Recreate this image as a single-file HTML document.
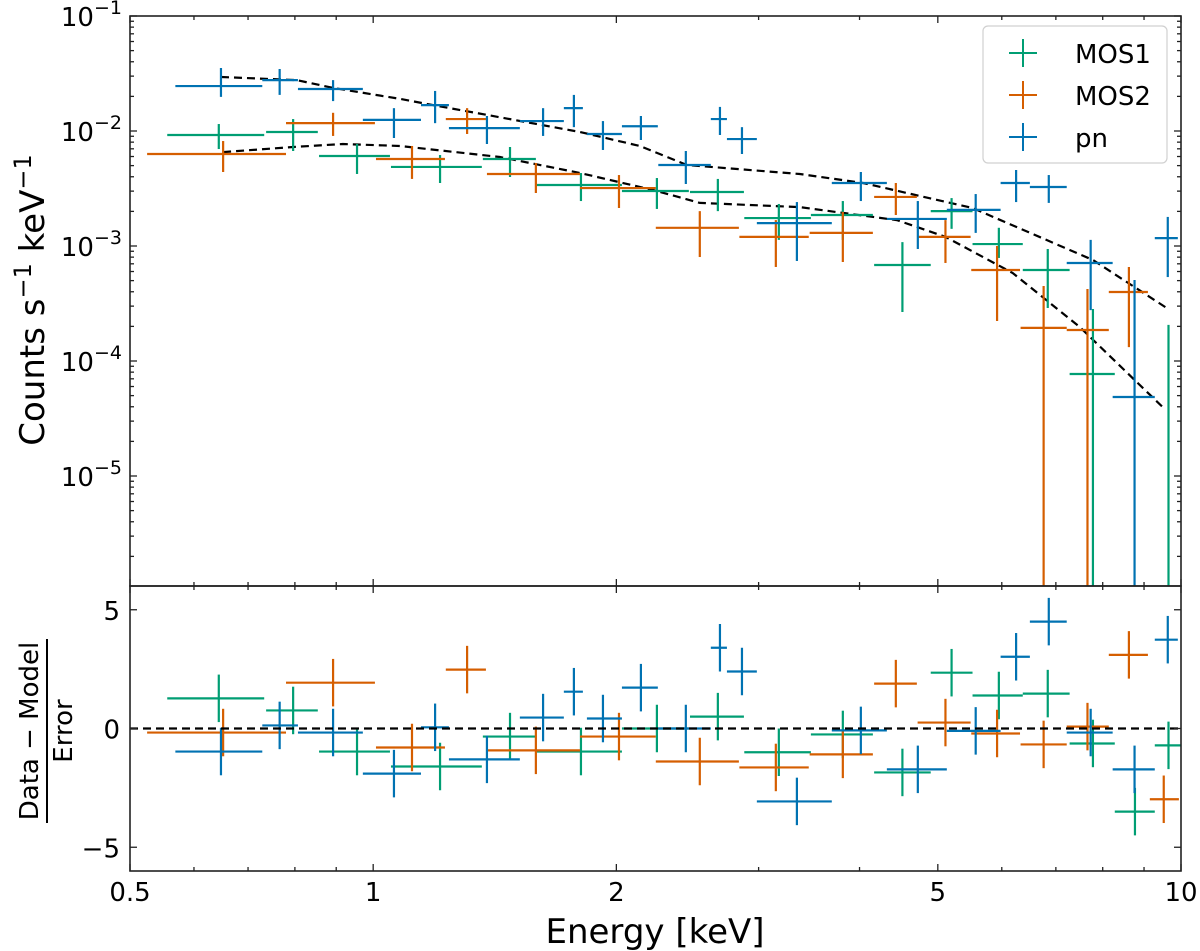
<!DOCTYPE html>
<html><head><meta charset="utf-8"><style>
html,body{margin:0;padding:0;background:#fff}
svg{display:block;font-family:"DejaVu Sans","Liberation Sans",sans-serif}
</style></head><body>
<svg id="chart" width="1200" height="951" viewBox="0 0 1200 951" xmlns="http://www.w3.org/2000/svg">
<defs>
<clipPath id="clipTop"><rect x="130" y="16" width="1051" height="570"/></clipPath>
<clipPath id="clipBot"><rect x="130" y="586" width="1051" height="285"/></clipPath>
</defs>
<g id="top-marks" clip-path="url(#clipTop)"></g>
<g id="bot-marks" clip-path="url(#clipBot)"></g>
<g id="axes"></g>
<text transform="translate(44,300) rotate(-90)" text-anchor="middle" font-size="34">Counts s<tspan dy="-13" font-size="24">−1</tspan><tspan dy="13"> keV</tspan><tspan dy="-13" font-size="24">−1</tspan></text>
<g transform="translate(0,731) rotate(-90)">
<text x="0" y="38" text-anchor="middle" font-size="26">Data − Model</text>
<line x1="-92" x2="92" y1="47" y2="47" stroke="#000" stroke-width="2"/>
<text x="0" y="72" text-anchor="middle" font-size="26">Error</text>
</g>
<text x="655" y="943" text-anchor="middle" font-size="34">Energy [keV]</text>
<g>
<rect x="983" y="26" width="184" height="137" rx="5" fill="#fff" fill-opacity="0.85" stroke="#d0d0d0" stroke-width="1.2"/>
<g><line x1="1009" x2="1037" y1="53" y2="53" stroke="#009E73" stroke-width="2"/><line x1="1023" x2="1023" y1="39" y2="67" stroke="#009E73" stroke-width="2"/><text x="1075" y="63" font-size="26">MOS1</text></g>
<g><line x1="1009" x2="1037" y1="95" y2="95" stroke="#D55E00" stroke-width="2"/><line x1="1023" x2="1023" y1="81" y2="109" stroke="#D55E00" stroke-width="2"/><text x="1075" y="105" font-size="26">MOS2</text></g>
<g><line x1="1009" x2="1037" y1="137" y2="137" stroke="#0072B2" stroke-width="2"/><line x1="1023" x2="1023" y1="123" y2="151" stroke="#0072B2" stroke-width="2"/><text x="1075" y="147" font-size="26">pn</text></g>
</g>
</svg>
<script>
// ---- pn data ----
const pnE   = [0.648,0.766,0.892,1.061,1.193,1.383,1.623,1.772,1.925,2.145,2.438,2.687,2.861,3.346,4.015,4.723,5.57,6.25,6.86,7.73,8.76,9.63];
const pnElo = [0.569,0.729,0.807,0.971,1.146,1.241,1.519,1.722,1.839,2.032,2.254,2.618,2.741,2.985,3.696,4.324,5.13,5.98,6.50,7.22,8.23,9.28];
const pnEhi = [0.729,0.807,0.971,1.146,1.241,1.519,1.722,1.818,2.032,2.251,2.618,2.741,2.985,3.696,4.324,5.13,5.98,6.50,7.22,8.23,9.28,9.91];
const pnV   = [0.0246,0.0277,0.0232,0.0125,0.0168,0.0106,0.0122,0.0158,0.00942,0.0110,0.00506,0.0127,0.00851,0.00158,0.00353,0.00172,0.00206,0.00353,0.00326,0.000712,0.0000486,0.00117];
const pnVlo = [0.0198,0.0206,0.0182,0.00869,0.0117,0.00771,0.00906,0.0108,0.00684,0.00835,0.00346,0.00923,0.00631,0.000741,0.00246,0.000942,0.00130,0.00241,0.00237,0.000277,1e-7,0.000537];
const pnVhi = [0.0353,0.0346,0.0277,0.0158,0.0223,0.0135,0.0158,0.0206,0.0122,0.0135,0.00670,0.0162,0.0108,0.00241,0.00440,0.00246,0.00283,0.00458,0.00414,0.00113,0.000506,0.00179];
const pnR   = [-0.97,0.13,-0.17,-1.9,0.05,-1.3,0.46,1.55,0.42,1.72,0,3.4,2.4,-3.07,-0.08,-1.72,-0.1,3.02,4.5,-0.17,-1.72,3.74];
// ---- MOS1 data ----
const m1E   = [0.644,0.796,0.955,1.210,1.477,1.808,2.245,2.671,3.178,3.814,4.52,5.20,5.95,6.84,7.78,8.77,9.65];
const m1Elo = [0.556,0.737,0.857,1.052,1.367,1.595,2.032,2.467,2.88,3.482,4.17,4.90,5.52,6.37,7.28,8.28,9.28];
const m1Ehi = [0.733,0.854,1.049,1.363,1.590,2.032,2.459,2.877,3.482,4.155,4.90,5.52,6.37,7.28,8.28,9.28,10.0];
const m1V   = [0.00923,0.00980,0.00606,0.00487,0.00571,0.00339,0.00301,0.00295,0.00175,0.00186,0.000684,0.00201,0.00104,0.000618,0.0000771,1e-7,1e-7];
const m1Vlo = [0.00697,0.00670,0.00423,0.00353,0.00398,0.00246,0.00210,0.00201,0.00113,0.00113,0.000267,0.00141,0.000787,0.000289,1e-7,1e-7,1e-7];
const m1Vhi = [0.0115,0.0127,0.00771,0.00618,0.00726,0.00431,0.00390,0.00383,0.00232,0.00246,0.00108,0.00261,0.00144,0.000942,0.000283,1e-7,0.000206];
const m1R   = [1.27,0.76,-0.97,-1.6,-0.34,-0.97,0,0.5,-1.0,-0.25,-1.85,2.35,1.39,1.47,-0.63,-3.5,-0.71];
// ---- MOS2 data ----
const m2E   = [0.652,0.892,1.117,1.307,1.590,2.015,2.537,3.151,3.814,4.436,5.11,5.92,6.76,7.66,8.62,9.52];
const m2Elo = [0.525,0.780,1.008,1.23,1.383,1.803,2.238,2.84,3.47,4.17,4.72,5.50,6.33,7.22,8.14,9.15];
const m2Ehi = [0.780,1.005,1.227,1.379,1.803,2.238,2.836,3.461,4.155,4.71,5.49,6.32,7.22,8.14,9.10,9.94];
const m2V   = [0.00631,0.0117,0.00571,0.0127,0.00423,0.00319,0.00144,0.00120,0.00130,0.00267,0.00120,0.000618,0.000194,0.000186,0.000398,1e-7];
const m2Vlo = [0.00440,0.00906,0.00383,0.00942,0.00289,0.00214,0.000802,0.000657,0.000726,0.00186,0.000712,0.000223,1e-7,1e-7,0.000132,1e-7];
const m2Vhi = [0.00818,0.0144,0.00741,0.0158,0.00527,0.00414,0.00201,0.00168,0.00198,0.00353,0.00168,0.00100,0.000449,0.000423,0.000657,1e-7];
const m2R   = [-0.17,1.93,-0.8,2.48,-0.92,-0.34,-1.39,-1.64,-1.09,1.89,0.25,-0.21,-0.67,0.08,3.1,-2.98];
// ---- models ----
const modPnE = [0.648,0.804,0.892,1.080,1.186,1.383,1.803,2.139,2.446,3.374,4.04,5.52,7.78,9.60];
const modPnV = [0.0295,0.0277,0.0237,0.0190,0.0168,0.0138,0.00980,0.00741,0.00506,0.00423,0.00353,0.00214,0.000755,0.000289];
const modMosE = [0.652,0.796,0.917,1.080,1.435,1.803,2.22,2.537,3.374,3.814,4.45,5.11,6.19,7.49,9.49];
const modMosV = [0.00656,0.00726,0.00771,0.00741,0.00594,0.00431,0.00307,0.00237,0.00218,0.00194,0.00168,0.00120,0.000582,0.000198,0.0000398];
// ---- ticks ----
const xMajor = [0.5,1,2,5,10];
const xMajorLabels = ["0.5","1","2","5","10"];
const xMinor = [0.6,0.7,0.8,0.9,3,4,6,7,8,9];
const yDecades = [-1,-2,-3,-4,-5];
const resTicks = [5,0,-5];
const resTickLabels = ["5","0","−5"];

const NS="http://www.w3.org/2000/svg";
const X0=130,X1=1181,T0=16,T1=586,B0=586,B1=871;
const xMin=0.5,xMax=10, yTopLog=-1, yBotLog=-1-(T1-T0)/115;
function sx(e){return X0+(Math.log10(e)-Math.log10(xMin))/(Math.log10(xMax)-Math.log10(xMin))*(X1-X0);}
function sy(v){return T0+(yTopLog-Math.log10(v))/(yTopLog-yBotLog)*(T1-T0);}
function sr(r){return B0+(6-r)/12*(B1-B0);}
function mk(tag,attrs,parent){const el=document.createElementNS(NS,tag);for(const k in attrs)el.setAttribute(k,attrs[k]);parent.appendChild(el);return el;}
const topG=document.getElementById('top-marks'), botG=document.getElementById('bot-marks'), axG=document.getElementById('axes');

function model(E,V,name){
  let d=''; for(let i=0;i<E.length;i++) d+=(i?'L':'M')+sx(E[i]).toFixed(1)+' '+sy(V[i]).toFixed(1);
  const p=mk('path',{d:d,fill:'none',stroke:'#000','stroke-width':2.2,'stroke-dasharray':'8 5'},topG);
  
  
}
model(modPnE,modPnV,'pn-model-line');
model(modMosE,modMosV,'mos-model-line');

function series(E,Elo,Ehi,V,Vlo,Vhi,R,color,name){
  const g=mk('g',{stroke:color,'stroke-width':2.2},topG);
  
  
  const g2=mk('g',{stroke:color,'stroke-width':2.2},botG);
  
  
  for(let i=0;i<E.length;i++){
    const x=sx(E[i]),y=sy(V[i]);
    const h=mk('line',{x1:sx(Elo[i]),x2:sx(Ehi[i]),y1:y,y2:y},g);
    
    
    const v=mk('line',{x1:x,x2:x,y1:sy(Vhi[i]),y2:sy(Vlo[i])},g);
    
    
    const yr=sr(R[i]);
    const h2=mk('line',{x1:sx(Elo[i]),x2:sx(Ehi[i]),y1:yr,y2:yr},g2);
    
    
    const v2=mk('line',{x1:x,x2:x,y1:sr(R[i]+1),y2:sr(R[i]-1)},g2);
    
    
  }
}
series(m1E,m1Elo,m1Ehi,m1V,m1Vlo,m1Vhi,m1R,'#009E73','mos1');
series(m2E,m2Elo,m2Ehi,m2V,m2Vlo,m2Vhi,m2R,'#D55E00','mos2');
series(pnE,pnElo,pnEhi,pnV,pnVlo,pnVhi,pnR,'#0072B2','pn');

const zl=mk('line',{x1:X0,x2:X1,y1:sr(0),y2:sr(0),stroke:'#000','stroke-width':2.2,'stroke-dasharray':'8 5'},botG);



// frames
for(const [y0,y1,n] of [[T0,T1,'top-frame'],[B0,B1,'bottom-frame']]){
  const r=mk('rect',{x:X0,y:y0,width:X1-X0,height:y1-y0,fill:'none',stroke:'#222','stroke-width':1.6},axG);
  
  
}
function tk(x1,y1,x2,y2){mk('line',{x1:x1,y1:y1,x2:x2,y2:y2,stroke:'#222','stroke-width':1.3},axG);}
// x ticks
for(const [arr,len] of [[xMajor,7],[xMinor,4]]){
  for(const e of arr){const x=sx(e);
    tk(x,T0,x,T0+len);tk(x,T1,x,T1-len);tk(x,B0,x,B0+len);tk(x,B1,x,B1-len);}
}
xMajor.forEach((e,i)=>{
  const t=mk('text',{x:sx(e),y:901,'text-anchor':'middle','font-size':26},axG);
  t.textContent=xMajorLabels[i];
  
  
});
// top y ticks
for(let d=-1;d>=-6;d--){
  for(let m=1;m<10;m++){
    const v=m*Math.pow(10,d); const y=sy(v);
    if(y<T0-0.5||y>T1) continue;
    const len=m===1?7:4;
    tk(X0,y,X0+len,y);tk(X1,y,X1-len,y);
  }
}
yDecades.forEach(d=>{
  const t=mk('text',{x:122,y:sy(Math.pow(10,d))+10,'text-anchor':'end','font-size':26},axG);
  
  
  const a=document.createElementNS(NS,'tspan');a.textContent='10';t.appendChild(a);
  const b=document.createElementNS(NS,'tspan');b.setAttribute('dy','-12');b.setAttribute('font-size','19');b.textContent='−'+(-d);t.appendChild(b);
});
// residual ticks
resTicks.forEach((r,i)=>{
  const y=sr(r); tk(X0,y,X0+7,y);tk(X1,y,X1-7,y);
  const t=mk('text',{x:120,y:y+10,'text-anchor':'end','font-size':26},axG);
  t.textContent=resTickLabels[i];
  
  
});
</script>
</body></html>
